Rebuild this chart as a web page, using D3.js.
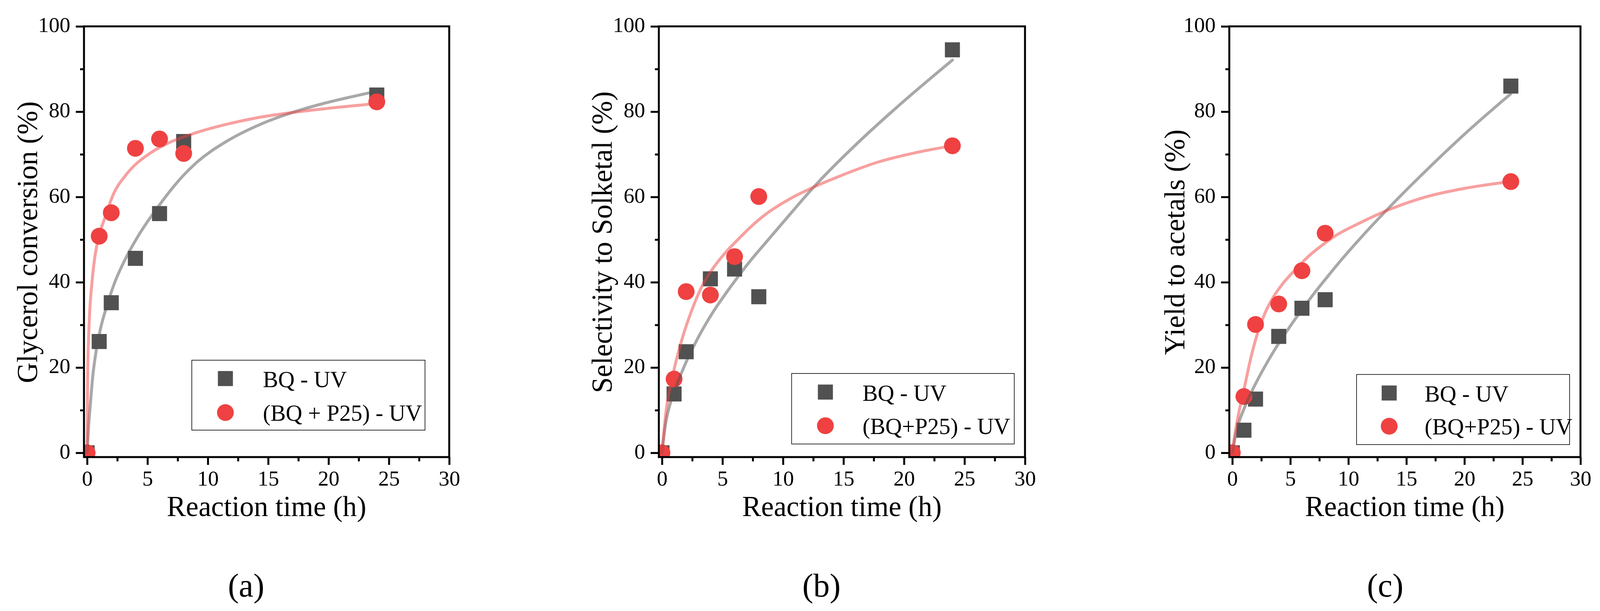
<!DOCTYPE html>
<html>
<head>
<meta charset="utf-8">
<script src="https://cdn.jsdelivr.net/npm/d3@7"></script>
<style>
html, body { margin: 0; padding: 0; background: #ffffff; }
svg { display: block; }
</style>
</head>
<body>
<svg id="chart" width="4102" height="1564"></svg>
<script>
// ---------------- DATA ----------------
const times = [0, 1, 2, 4, 6, 8, 24];

// (a) Glycerol conversion (%)
const convBQ      = [0, 26.1, 35.2, 45.6, 56.1, 73.0, 83.9];
const convBQP25   = [0, 50.8, 56.3, 71.4, 73.6, 70.2, 82.3];
// (b) Selectivity to Solketal (%)
const selBQ       = [0, 13.8, 23.7, 40.8, 43.1, 36.6, 94.5];
const selBQP25    = [0, 17.3, 37.8, 37.0, 46.0, 60.1, 72.0];
// (c) Yield to acetals (%)
const yieldBQ     = [0, 5.3, 12.6, 27.3, 33.9, 35.9, 86.0];
const yieldBQP25  = [0, 13.2, 30.1, 34.9, 42.7, 51.5, 63.6];

// fitted curves: [time, value]
const fitConvBQ = [[0,0],[0.13,6.5],[0.28,11.8],[0.45,17.5],[0.72,23.4],[1.10,29.0],[1.63,34.4],[2.28,39.9],[3.14,45.3],[4.22,50.8],[5.96,58.0],[7.96,65.0],[8.96,67.8],[11.65,73.2],[14.33,77.0],[17,79.8],[19.7,82.0],[22.4,83.8],[24,84.8]];
const fitConvBQP25 = [[0,0],[0.02,10.0],[0.05,19.0],[0.15,29.0],[0.40,39.9],[0.61,45.3],[0.88,49.7],[1.47,55.1],[2.17,60.6],[3.14,64.9],[4.0,67.6],[5.08,70.0],[6.47,72.3],[8.96,75.0],[11.65,77.1],[14.33,78.7],[17,79.8],[19.7,80.7],[24,81.9]];
const fitSelBQ = [[0,0],[0.28,6.5],[0.71,11.8],[1.14,15.3],[2.0,21.3],[3.08,27.5],[4.15,32.7],[5.23,37.2],[6.31,41.4],[7.38,45.3],[8.46,48.9],[10.6,56.0],[12.0,60.6],[13.2,64.3],[16,72.2],[20,82.5],[24,92.1]];
const fitSelBQP25 = [[0,0],[0.28,8.3],[0.93,18.6],[1.62,26.3],[2.54,34.0],[3.40,39.6],[4.15,43.0],[5.23,46.9],[6.31,50.1],[7.38,53.1],[8.46,55.7],[10.6,59.6],[12.76,62.6],[14.7,64.9],[18,68.3],[21,70.4],[24,72.0]];
const fitYieldBQ = [[0,0],[0.4,5.6],[0.96,10.0],[1.64,14.2],[2.65,19.5],[3.77,24.7],[4.89,29.3],[6.01,33.6],[7.14,37.7],[8.26,41.5],[9.38,45.2],[11.06,50.4],[13.08,56.3],[16.1,64.6],[20,74.7],[24,84.2]];
const fitYieldBQP25 = [[0,0],[0.2,4.0],[0.5,8.6],[1.04,15.3],[1.53,21.5],[2.09,27.3],[2.76,32.4],[3.55,36.6],[4.33,39.6],[5.45,43.0],[6.57,46.1],[7.70,48.6],[8.82,50.8],[11.06,54.0],[13.3,56.8],[16.67,60.0],[20,62.0],[24,63.6]];

// ticks and labels
const xMajorTicks = [0, 5, 10, 15, 20, 25, 30];
const xMinorTicks = [2.5, 7.5, 12.5, 17.5, 22.5, 27.5];
const yMajorTicks = [0, 20, 40, 60, 80, 100];
const yMinorTicks = [10, 30, 50, 70, 90];
const xTitle = "Reaction time (h)";
const yTitles = ["Glycerol conversion (%)", "Selectivity to Solketal (%)", "Yield to acetals (%)"];
const panelLabels = ["(a)", "(b)", "(c)"];
const legendBQ = "BQ - UV";
const legendBQP25 = ["(BQ + P25) - UV", "(BQ+P25) - UV", "(BQ+P25) - UV"];

// ---------------- LAYOUT ----------------
const FONT = "'Liberation Serif', 'DejaVu Serif', serif";
const TOP = 67.5, BOTTOM = 1170;
const layout = [
  { left: 215,    right: 1150, yTitleX: 95,   labelX: 630,
    legend: { x: 491,    y: 922,   w: 597,   h: 179,   mx: 577,    r1: 969,  r2: 1056, tx: 673 } },
  { left: 1686.6, right: 2624, yTitleX: 1566, labelX: 2103,
    legend: { x: 2026.5, y: 956,   w: 570,   h: 180.5, mx: 2113,   r1: 1003.6, r2: 1089.7, tx: 2208 } },
  { left: 3147,   right: 4046, yTitleX: 3032, labelX: 3546,
    legend: { x: 3472.7, y: 958.5, w: 545.5, h: 179.5, mx: 3556.3, r1: 1006, r2: 1091, tx: 3647 } }
];
const panels = [
  { bq: convBQ,  p25: convBQP25,  fitBq: fitConvBQ,  fitP25: fitConvBQP25 },
  { bq: selBQ,   p25: selBQP25,   fitBq: fitSelBQ,   fitP25: fitSelBQP25 },
  { bq: yieldBQ, p25: yieldBQP25, fitBq: fitYieldBQ, fitP25: fitYieldBQP25 }
];

const SQ_COLOR = "#515151";
const CI_COLOR = "#EF4141";
const SQ = 38.5, CR = 21.5;

const svg = d3.select("#chart");
svg.append("rect").attr("width", 4102).attr("height", 1564).attr("fill", "#fff");

panels.forEach((p, i) => {
  const L = layout[i];
  const x = d3.scaleLinear().domain([-0.26, 30]).range([L.left, L.right]);
  const y = d3.scaleLinear().domain([-1.0, 100]).range([BOTTOM, TOP]);
  const g = svg.append("g");

  const clipId = "clip" + i;
  svg.append("defs").append("clipPath").attr("id", clipId)
    .append("rect").attr("x", L.left).attr("y", TOP)
    .attr("width", L.right - L.left).attr("height", BOTTOM - TOP);

  const plot = g.append("g").attr("clip-path", `url(#${clipId})`);

  // markers
  plot.selectAll("rect.sq").data(times.map((t, k) => [t, p.bq[k]])).enter()
    .append("rect").attr("class", "sq")
    .attr("x", d => x(d[0]) - SQ / 2).attr("y", d => y(d[1]) - SQ / 2)
    .attr("width", SQ).attr("height", SQ).attr("fill", SQ_COLOR);
  plot.selectAll("circle.ci").data(times.map((t, k) => [t, p.p25[k]])).enter()
    .append("circle").attr("class", "ci")
    .attr("cx", d => x(d[0])).attr("cy", d => y(d[1]))
    .attr("r", CR).attr("fill", CI_COLOR);

  // fitted lines
  const line = d3.line().x(d => x(d[0])).y(d => y(d[1])).curve(d3.curveMonotoneX);
  plot.append("path").datum(p.fitBq).attr("d", line)
    .attr("fill", "none").attr("stroke", "#525252").attr("stroke-opacity", 0.5)
    .attr("stroke-width", 7.5).attr("stroke-linecap", "round");
  plot.append("path").datum(p.fitP25).attr("d", line)
    .attr("fill", "none").attr("stroke", CI_COLOR).attr("stroke-opacity", 0.5)
    .attr("stroke-width", 7.5).attr("stroke-linecap", "round");

  // axes
  const styleAxis = sel => {
    sel.select(".domain").remove();
    sel.selectAll(".tick line").attr("stroke", "#000").attr("stroke-width", 5);
    sel.selectAll(".tick text").attr("fill", "#000")
      .style("font-family", FONT).style("font-size", "55px");
  };
  const yAxis = g.append("g").attr("transform", `translate(${L.left},0)`)
    .call(d3.axisLeft(y).tickValues(yMajorTicks).tickSize(21).tickPadding(14).tickFormat(d3.format("d")));
  styleAxis(yAxis);
  yAxis.selectAll(".tick text").attr("dy", "14");
  const yMinor = g.append("g").attr("transform", `translate(${L.left},0)`)
    .call(d3.axisLeft(y).tickValues(yMinorTicks).tickSize(10).tickFormat(""));
  styleAxis(yMinor);

  const xAxis = g.append("g").attr("transform", `translate(0,${BOTTOM})`)
    .call(d3.axisBottom(x).tickValues(xMajorTicks).tickSize(20).tickFormat(d3.format("d")));
  styleAxis(xAxis);
  xAxis.selectAll(".tick text").attr("y", 73).attr("dy", 0);
  const xMinor = g.append("g").attr("transform", `translate(0,${BOTTOM})`)
    .call(d3.axisBottom(x).tickValues(xMinorTicks).tickSize(11).tickFormat(""));
  styleAxis(xMinor);

  // frame
  g.append("rect").attr("x", L.left).attr("y", TOP)
    .attr("width", L.right - L.left).attr("height", BOTTOM - TOP)
    .attr("fill", "none").attr("stroke", "#000").attr("stroke-width", 5);

  // titles
  g.append("text").attr("x", (L.left + L.right) / 2).attr("y", 1321)
    .attr("text-anchor", "middle").style("font-family", FONT).style("font-size", "73px")
    .attr("fill", "#000").text(xTitle);
  g.append("text").attr("transform", `translate(${L.yTitleX},620) rotate(-90)`)
    .attr("text-anchor", "middle").style("font-family", FONT).style("font-size", "73px")
    .attr("fill", "#000").text(yTitles[i]);
  g.append("text").attr("x", L.labelX).attr("y", 1527)
    .attr("text-anchor", "middle").style("font-family", FONT).style("font-size", "84px")
    .attr("fill", "#000").text(panelLabels[i]);

  // legend
  const lg = L.legend;
  const leg = g.append("g");
  leg.append("rect").attr("x", lg.x).attr("y", lg.y).attr("width", lg.w).attr("height", lg.h)
    .attr("fill", "#fff").attr("stroke", "#000").attr("stroke-width", 1.6);
  leg.append("rect").attr("x", lg.mx - SQ / 2).attr("y", lg.r1 - SQ / 2)
    .attr("width", SQ).attr("height", SQ).attr("fill", SQ_COLOR);
  leg.append("circle").attr("cx", lg.mx).attr("cy", lg.r2).attr("r", CR).attr("fill", CI_COLOR);
  leg.append("text").attr("x", lg.tx).attr("y", lg.r1 + 22)
    .style("font-family", FONT).style("font-size", "58.6px").attr("fill", "#000").text(legendBQ);
  leg.append("text").attr("x", lg.tx).attr("y", lg.r2 + 21)
    .style("font-family", FONT).style("font-size", "58.6px").attr("fill", "#000").text(legendBQP25[i]);
});
</script>
</body>
</html>
